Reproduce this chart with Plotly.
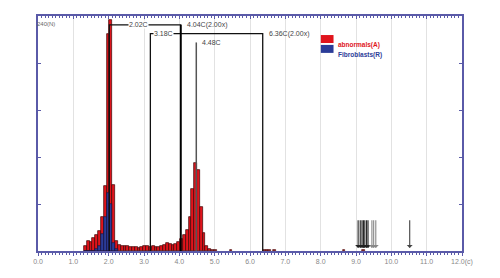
import plotly.graph_objects as go

# ---------------- data ----------------
bin_start = 1.30
bin_width = 0.08
abnormal_counts = [5, 10, 9, 13, 16, 20, 35, 66, 222, 236, 67, 10, 6, 5, 5, 5, 4, 4, 4, 3,
                   4, 5, 5, 4, 5, 4, 4, 5, 6, 8, 7, 6, 7, 9, 12, 16, 21, 35, 63, 90,
                   83, 45, 18, 5, 2, 1, 1]
fibro_counts = [0, 0, 0, 0, 2, 5, 17, 35, 59, 48, 8, 2]
sparse_x = [5.46, 6.40, 6.48, 6.56, 6.70, 8.66, 9.22]
sparse_counts = [1, 1, 1, 1, 1, 1, 1]

peak_lines = [  # (position, label, top)
    (2.02, "2.02C", 231),
    (3.18, "3.18C", 222),
    (4.04, "4.04C(2.00x)", 231),
    (4.48, "4.48C", 213),
    (6.36, "6.36C(2.00x)", 222),
]
arrow_x = [9.06, 9.12, 9.17, 9.21, 9.25, 9.30, 9.34, 9.45, 9.50, 9.56, 10.52]
x_ticks = [0, 1, 2, 3, 4, 5, 6, 7, 8, 9, 10, 11, 12]
x_ticktext = ["0.0", "1.0", "2.0", "3.0", "4.0", "5.0", "6.0", "7.0", "8.0", "9.0", "10.0", "11.0", "12.0(c)"]
series_names = ["abnormals(A)", "Fibroblasts(R)"]
series_colors = ["#e0141c", "#2b3c98"]

AXIS = "#5a5aa8"

ab_x = [bin_start + bin_width * (i + 0.5) for i in range(len(abnormal_counts))]
fb_x = [bin_start + bin_width * (i + 0.5) for i in range(len(fibro_counts))]

fig = go.Figure()
fig.add_trace(go.Bar(x=ab_x + sparse_x, y=abnormal_counts + sparse_counts, width=bin_width,
                     marker=dict(color=series_colors[0], line=dict(color="#3a0505", width=0.7)),
                     showlegend=False))
fig.add_trace(go.Bar(x=fb_x, y=fibro_counts, width=bin_width,
                     marker=dict(color=series_colors[1], line=dict(color="#101040", width=0.6)),
                     showlegend=False))

# peak marker lines
p = {lab: (xv, top) for xv, lab, top in peak_lines}
x202, t202 = p["2.02C"]
x404, t404 = p["4.04C(2.00x)"]
x318, t318 = p["3.18C"]
x636, t636 = p["6.36C(2.00x)"]
x448, t448 = p["4.48C"]

line_traces = [
    ([x202, x202, x404, x404], [0, t202, t202, 0], "#111111", 1.2),
    ([x318, x318, x636, x636], [0, t318, t318, 0], "#111111", 1.3),
    ([x404, x404], [0, t404], "#000000", 1.8),
    ([x448, x448], [0, t448], "#555555", 1.5),
]
for xs, ys, c, w in line_traces:
    fig.add_trace(go.Scatter(x=xs, y=ys, mode="lines", line=dict(color=c, width=w),
                             showlegend=False, hoverinfo="skip"))

# invisible trace for top axis
fig.add_trace(go.Scatter(x=[0, 12], y=[0, 0], xaxis="x2", mode="lines",
                         line=dict(width=0), showlegend=False, hoverinfo="skip"))

lab_font = dict(family="Liberation Sans, Arial, sans-serif", size=7, color="#444444")
ann = []
ann.append(dict(x=(x202 + x318) / 2 + 0.25, y=t202, text="2.02C", showarrow=False, bgcolor="white",
                font=lab_font, borderpad=0, xref="x", yref="y"))
ann.append(dict(x=x318 + 0.38, y=t318, text="3.18C", showarrow=False, bgcolor="white",
                font=lab_font, borderpad=0, xref="x", yref="y"))
ann.append(dict(x=x404 + 0.12, y=t404, text="4.04C(2.00x)", showarrow=False, xanchor="left",
                font=lab_font, xref="x", yref="y"))
ann.append(dict(x=x636 + 0.12, y=t636, text="6.36C(2.00x)", showarrow=False, xanchor="left",
                font=lab_font, xref="x", yref="y"))
ann.append(dict(x=x448 + 0.1, y=t448, text="4.48C", showarrow=False, xanchor="left",
                font=lab_font, xref="x", yref="y"))

for i, xa in enumerate(arrow_x):
    col = "#222222" if i < 7 else ("#888888" if i < 10 else "#444444")
    ann.append(dict(x=xa, y=3, ax=xa, ay=33, xref="x", yref="y", axref="x", ayref="y",
                    showarrow=True, arrowhead=1, arrowsize=0.9, arrowwidth=1.1, arrowcolor=col, text=""))

# y top label
ann.append(dict(x=-0.008, y=0.987, xref="paper", yref="paper", text="240(N)", showarrow=False,
                font=dict(family="Liberation Sans, Arial, sans-serif", size=6, color="#666666")))

# custom legend
shapes = []
leg_x0 = 0.667
for i, (nm, col) in enumerate(zip(series_names, series_colors)):
    yc = 0.902 - i * 0.042
    shapes.append(dict(type="rect", xref="paper", yref="paper", x0=leg_x0, x1=leg_x0 + 0.03,
                       y0=yc - 0.017, y1=yc + 0.017, fillcolor=col, line=dict(width=0)))
    ann.append(dict(x=leg_x0 + 0.035, y=yc, xref="paper", yref="paper", xanchor="left",
                    text="<b>" + nm + "</b>", showarrow=False,
                    font=dict(family="Liberation Sans, Arial, sans-serif", size=6.5, color=col)))

fig.update_layout(
    width=500, height=278,
    margin=dict(l=38, r=38, t=16, b=23),
    paper_bgcolor="white", plot_bgcolor="white",
    barmode="overlay", bargap=0,
    showlegend=False,
    annotations=ann, shapes=shapes,
    xaxis=dict(range=[0, 12], tickvals=x_ticks, ticktext=x_ticktext,
               showgrid=True, gridcolor="#e2e2e2", gridwidth=1,
               showline=True, linecolor=AXIS, linewidth=1.5,
               ticks="outside", ticklen=3, tickcolor=AXIS, tickwidth=1,
               minor=dict(dtick=0.1, ticks="outside", ticklen=2, tickcolor=AXIS, showgrid=False),
               tickfont=dict(family="Liberation Sans, Arial, sans-serif", size=7, color="#888888"),
               zeroline=False, fixedrange=True),
    xaxis2=dict(range=[0, 12], overlaying="x", side="top", showgrid=False,
                showline=True, linecolor=AXIS, linewidth=1.5,
                ticks="inside", ticklen=3, tickcolor=AXIS, dtick=1, tick0=0,
                minor=dict(dtick=0.1, ticks="inside", ticklen=2, tickcolor=AXIS),
                showticklabels=False, zeroline=False),
    yaxis=dict(range=[0, 240], dtick=48, tick0=0, showgrid=False,
               showline=True, linecolor=AXIS, linewidth=2, mirror="ticks",
               ticks="inside", ticklen=3, tickcolor=AXIS, tickwidth=1.2,
               showticklabels=False, zeroline=False),
)

fig.write_html("out.html")
